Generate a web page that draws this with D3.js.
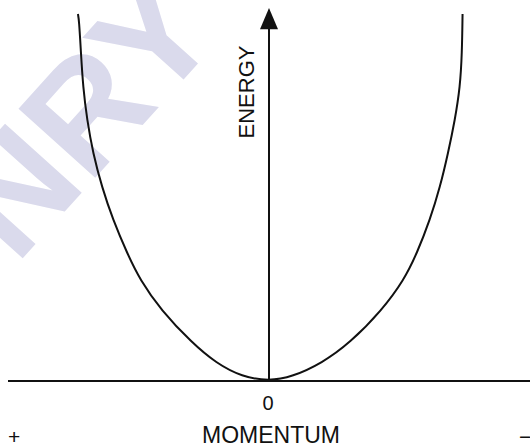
<!DOCTYPE html>
<html>
<head>
<meta charset="utf-8">
<script src="https://cdn.jsdelivr.net/npm/d3@7"></script>
<style>
  html, body { margin: 0; padding: 0; background: #fff; overflow: hidden; }
  svg { display: block; }
</style>
</head>
<body>
<div id="chart-area"></div>
<script>
// curve points (momentum, energy), left branch then right branch
var momentum = [-1.003, -0.997, -0.987, -0.976, -0.955, -0.924, -0.877, -0.819, -0.745, -0.677, -0.567, -0.404, -0.278, -0.142, 0,
                0.121, 0.278, 0.425, 0.593, 0.709, 0.777, 0.845, 0.898, 0.940, 0.976, 1.003, 1.013, 1.016];
var energy = [0.984, 0.968, 0.879, 0.788, 0.700, 0.611, 0.520, 0.432, 0.343, 0.271, 0.190, 0.102, 0.048, 0.011, 0,
              0.011, 0.048, 0.102, 0.190, 0.271, 0.343, 0.432, 0.520, 0.611, 0.700, 0.788, 0.879, 0.984];
var xTicks = ["0"];
var xTitle = "MOMENTUM";
var yTitle = "ENERGY";
var endLabels = ["+", "\u2212"];

var width = 530, height = 447;
var font = "Liberation Sans, Arial, sans-serif";

var svg = d3.select("#chart-area").append("svg")
    .attr("width", width).attr("height", height);

var x = d3.scaleLinear().domain([-1.37, 1.37]).range([8, 530]);
var y = d3.scaleLinear().domain([0, 1]).range([381, 8]);

// watermark
svg.append("text")
    .attr("transform", "translate(80,114) rotate(-48)")
    .attr("text-anchor", "middle")
    .attr("dy", "0.36em")
    .attr("font-family", font)
    .attr("font-weight", "bold")
    .attr("font-size", "150px")
    .attr("fill", "#dadaec")
    .text("NRY");

var data = momentum.map(function(p, i) { return {p: p, e: energy[i]}; });

var line = d3.line()
    .x(function(d) { return x(d.p); })
    .y(function(d) { return y(d.e); })
    .curve(d3.curveBasis);

svg.append("path")
    .datum(data)
    .attr("d", line)
    .attr("fill", "none")
    .attr("stroke", "#111")
    .attr("stroke-width", 2);

// x axis line
svg.append("line")
    .attr("x1", x(-1.37)).attr("x2", x(1.37))
    .attr("y1", y(0)).attr("y2", y(0))
    .attr("stroke", "#111").attr("stroke-width", 2);

// y axis with arrow
svg.append("line")
    .attr("x1", x(0)).attr("x2", x(0))
    .attr("y1", y(0)).attr("y2", y(0.95))
    .attr("stroke", "#111").attr("stroke-width", 2);

svg.append("path")
    .attr("d", "M" + x(0) + "," + y(1) + "L" + (x(0) - 9) + "," + y(0.943) + "L" + (x(0) + 9) + "," + y(0.943) + "Z")
    .attr("fill", "#111");

svg.selectAll(".xtick").data(xTicks).enter().append("text")
    .attr("class", "xtick")
    .attr("x", function(d) { return x(+d) - 1; })
    .attr("y", 410)
    .attr("text-anchor", "middle")
    .attr("font-family", font)
    .attr("font-size", "20px")
    .attr("fill", "#111")
    .text(function(d) { return d; });

svg.append("text")
    .attr("x", 271).attr("y", 443)
    .attr("text-anchor", "middle")
    .attr("font-family", font)
    .attr("font-size", "23px")
    .attr("fill", "#111")
    .text(xTitle);

svg.append("text")
    .attr("transform", "translate(254,92) rotate(-90)")
    .attr("text-anchor", "middle")
    .attr("font-family", font)
    .attr("font-size", "22px")
    .attr("fill", "#111")
    .text(yTitle);

svg.append("text")
    .attr("x", 8).attr("y", 444)
    .attr("font-family", font)
    .attr("font-size", "21px")
    .attr("fill", "#111")
    .text(endLabels[0]);

svg.append("text")
    .attr("x", 519).attr("y", 444)
    .attr("font-family", font)
    .attr("font-size", "21px")
    .attr("fill", "#111")
    .text(endLabels[1]);
</script>
</body>
</html>
